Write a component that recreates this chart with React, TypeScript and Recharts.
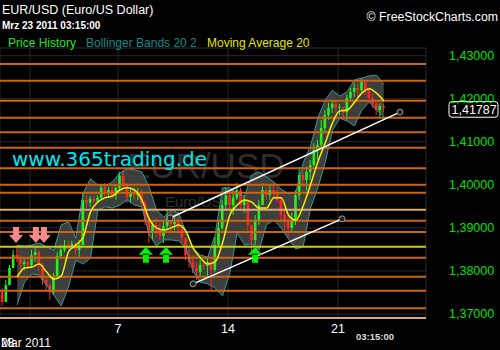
import React from 'react';
import {
    ComposedChart,
    Bar,
    Area,
    Line,
    XAxis,
    YAxis,
    CartesianGrid,
    ReferenceLine,
    ReferenceDot,
} from 'recharts';

// 4-hour candles, EUR/USD, 28 Feb - 23 Mar 2011 (weekends skipped)
const firstOpen = 1.3751;
const closes = [
    1.3728, 1.3767, 1.3807, 1.3837, 1.3830, 1.3816, 1.3821, 1.3814, 1.3837, 1.3844,
    1.3814, 1.3779, 1.3767, 1.3751, 1.3788, 1.3835, 1.3849, 1.3860, 1.3858, 1.3863,
    1.3849, 1.3860, 1.3965, 1.3958, 1.3967, 1.3963, 1.3970, 1.3993, 1.3983, 1.3988,
    1.3976, 1.3993, 1.4021, 1.4000, 1.3972, 1.3983, 1.3976, 1.3981, 1.3958, 1.3918,
    1.3891, 1.3907, 1.3895, 1.3881, 1.3904, 1.3923, 1.3909, 1.3914, 1.3900, 1.3877,
    1.3837, 1.3821, 1.3807, 1.3798, 1.3814, 1.3812, 1.3821, 1.3802, 1.3860, 1.3900,
    1.3953, 1.3976, 1.3953, 1.3970, 1.3988, 1.3953, 1.3965, 1.3907, 1.3872, 1.3918,
    1.3953, 1.3988, 1.3976, 1.3988, 1.3981, 1.3965, 1.3930, 1.3914, 1.3900, 1.3918,
    1.3976, 1.4023, 1.4011, 1.4030, 1.4046, 1.4081, 1.4093, 1.4132, 1.4162, 1.4179,
    1.4188, 1.4179, 1.4181, 1.4169, 1.4202, 1.4216, 1.4225, 1.4220, 1.4239, 1.4220,
    1.4202, 1.4188, 1.4174, 1.4183, 1.41787,
];
const highs = [
    1.3760, 1.3779, 1.3814, 1.3849, 1.3860, 1.3837, 1.3830, 1.3830, 1.3849, 1.3856,
    1.3849, 1.3821, 1.3788, 1.3772, 1.3795, 1.3844, 1.3860, 1.3872, 1.3870, 1.3870,
    1.3867, 1.3872, 1.3981, 1.3976, 1.3974, 1.3974, 1.3976, 1.4000, 1.4004, 1.3995,
    1.3997, 1.4000, 1.4030, 1.4035, 1.4004, 1.3993, 1.3995, 1.3993, 1.3988, 1.3965,
    1.3923, 1.3918, 1.3923, 1.3911, 1.3914, 1.3942, 1.3937, 1.3925, 1.3923, 1.3904,
    1.3877, 1.3849, 1.3837, 1.3821, 1.3825, 1.3825, 1.3830, 1.3830, 1.3879, 1.3918,
    1.3965, 1.3995, 1.3981, 1.3988, 1.4004, 1.3993, 1.3976, 1.3965, 1.3907, 1.3930,
    1.3965, 1.4004, 1.3995, 1.4000, 1.4004, 1.3993, 1.3970, 1.3946, 1.3930, 1.3935,
    1.3988, 1.4042, 1.4035, 1.4042, 1.4058, 1.4097, 1.4104, 1.4151, 1.4174, 1.4190,
    1.4197, 1.4193, 1.4188, 1.4181, 1.4209, 1.4225, 1.4237, 1.4234, 1.4248, 1.4244,
    1.4227, 1.4213, 1.4197, 1.4190, 1.4188,
];
const lows = [
    1.3719, 1.3737, 1.3767, 1.3807, 1.3821, 1.3802, 1.3802, 1.3807, 1.3807, 1.3821,
    1.3798, 1.3767, 1.3756, 1.3733, 1.3744, 1.3784, 1.3830, 1.3844, 1.3849, 1.3851,
    1.3837, 1.3830, 1.3860, 1.3946, 1.3949, 1.3956, 1.3958, 1.3967, 1.3974, 1.3970,
    1.3970, 1.3965, 1.3988, 1.3993, 1.3958, 1.3958, 1.3965, 1.3965, 1.3951, 1.3907,
    1.3865, 1.3872, 1.3879, 1.3872, 1.3865, 1.3895, 1.3888, 1.3895, 1.3888, 1.3865,
    1.3825, 1.3807, 1.3795, 1.3779, 1.3788, 1.3802, 1.3784, 1.3756, 1.3798, 1.3856,
    1.3895, 1.3942, 1.3937, 1.3930, 1.3965, 1.3942, 1.3935, 1.3888, 1.3842, 1.3860,
    1.3907, 1.3953, 1.3965, 1.3965, 1.3970, 1.3958, 1.3914, 1.3895, 1.3879, 1.3891,
    1.3907, 1.3965, 1.3995, 1.3988, 1.4011, 1.4042, 1.4058, 1.4086, 1.4123, 1.4151,
    1.4167, 1.4167, 1.4162, 1.4155, 1.4151, 1.4197, 1.4204, 1.4204, 1.4216, 1.4209,
    1.4190, 1.4179, 1.4162, 1.4158, 1.4169,
];

// Bollinger Bands 20 2 and Moving Average 20, read every second candle from candle 4 on
const bandStart = 4;
const upperBand = [
    1.3860, 1.3858, 1.3860, 1.3865, 1.3856, 1.3849, 1.3907, 1.3914, 1.3877, 1.3981,
    1.4014, 1.4000, 1.3997, 1.4007, 1.4028, 1.4037, 1.4035, 1.4030, 1.3995, 1.3942,
    1.3925, 1.3942, 1.3935, 1.3891, 1.3853, 1.3837, 1.3832, 1.3884, 1.3993, 1.3993,
    1.3981, 1.3974, 1.4023, 1.4030, 1.4018, 1.4007, 1.3990, 1.3979, 1.3983, 1.4051,
    1.4090, 1.4155, 1.4197, 1.4220, 1.4206, 1.4216, 1.4244, 1.4248, 1.4253, 1.4255,
    1.4234,
];
const lowerBand = [
    1.3721, 1.3774, 1.3793, 1.3791, 1.3767, 1.3744, 1.3719, 1.3763, 1.3825, 1.3816,
    1.3830, 1.3940, 1.3949, 1.3946, 1.3953, 1.3965, 1.3953, 1.3949, 1.3884, 1.3858,
    1.3872, 1.3872, 1.3870, 1.3853, 1.3798, 1.3774, 1.3770, 1.3760, 1.3742, 1.3795,
    1.3888, 1.3860, 1.3863, 1.3849, 1.3907, 1.3918, 1.3900, 1.3874, 1.3851, 1.3856,
    1.3946, 1.3993, 1.4051, 1.4127, 1.4155, 1.4148, 1.4137, 1.4174, 1.4192, 1.4174,
    1.4158,
];
const movingAvg = [
    1.3786, 1.3807, 1.3809, 1.3816, 1.3798, 1.3781, 1.3788, 1.3844, 1.3860, 1.3879,
    1.3937, 1.3960, 1.3970, 1.3974, 1.3988, 1.3993, 1.3988, 1.3965, 1.3921, 1.3900,
    1.3895, 1.3900, 1.3907, 1.3893, 1.3853, 1.3830, 1.3816, 1.3821, 1.3865, 1.3930,
    1.3953, 1.3965, 1.3960, 1.3946, 1.3946, 1.3970, 1.3970, 1.3930, 1.3918, 1.3951,
    1.4000, 1.4053, 1.4097, 1.4144, 1.4172, 1.4174, 1.4192, 1.4213, 1.4223, 1.4213,
    1.4195,
];

// drawn support / resistance levels
const orangeLevels = [
    1.42807, 1.42419, 1.41955, 1.4156, 1.41221, 1.40863, 1.40384, 1.40003, 1.39818,
    1.39167, 1.38905, 1.38308, 1.37866, 1.37541, 1.37132,
];
const tanLevel = 1.39423;
const yellowLevel = 1.38563;
const lastPrice = 1.41787;

const yTicks = [1.37, 1.375, 1.38, 1.385, 1.39, 1.395, 1.4, 1.405, 1.41, 1.415, 1.42, 1.425, 1.43];
const dayTicks = [7.5, 31.5, 61.5, 91.5];
const dayLabels = ['', '7', '14', '21'];

const upperTrend = [{ x: 45.7, y: 1.3923 }, { x: 108.4, y: 1.4169 }];
const lowerTrend = [{ x: 52.0, y: 1.3770 }, { x: 92.6, y: 1.3921 }];

const sellArrows = [{ x: 3.7, y: 1.3865 }, { x: 9.1, y: 1.3865 }, { x: 11.3, y: 1.3865 }];
const buyArrows = [{ x: 39.1, y: 1.3856 }, { x: 44.6, y: 1.3856 }, { x: 68.9, y: 1.3856 }];

const GREEN = '#22f222';
const RED = '#ff2626';
const TEAL = '#2a9da0';
const ORANGE = '#cc6612';
const FONT = '"Liberation Sans", Arial, sans-serif';

const candles = closes.map((close, i) => {
    const open = i === 0 ? firstOpen : closes[i - 1];
    return {
        idx: i,
        open,
        close,
        high: Math.max(highs[i], open, close),
        low: Math.min(lows[i], open, close),
    };
});

const bands = upperBand.map((upper, j) => ({
    idx: bandStart + j * 2,
    upper,
    lower: lowerBand[j],
    ma: movingAvg[j],
}));

const Candle = (props: any) => {
    const { x, y, width, height, payload } = props;
    if (x == null || payload == null) return null;
    const span = payload.high - payload.low;
    const k = span > 0 ? height / span : 0;
    const yo = y + (payload.high - payload.open) * k;
    const yc = y + (payload.high - payload.close) * k;
    const color = payload.close >= payload.open ? GREEN : RED;
    const cx = x + width / 2;
    return (
        <g>
            <line x1={cx} x2={cx} y1={y} y2={y + height} stroke={color} strokeWidth={1} />
            <rect x={cx - 1.3} y={Math.min(yo, yc)} width={2.6} height={Math.max(1, Math.abs(yc - yo))} fill={color} />
        </g>
    );
};

const DownArrow = ({ cx, cy }: any) => (
    <path
        d={`M${cx - 7},${cy - 8} L${cx + 7},${cy - 8} L${cx},${cy} Z M${cx - 3},${cy - 16} L${cx + 3},${cy - 16} L${cx + 3},${cy - 7} L${cx - 3},${cy - 7} Z`}
        fill="#f58a8a"
    />
);

const UpArrow = ({ cx, cy }: any) => (
    <path
        d={`M${cx - 7},${cy + 8} L${cx + 7},${cy + 8} L${cx},${cy} Z M${cx - 3},${cy + 7} L${cx + 3},${cy + 7} L${cx + 3},${cy + 16} L${cx - 3},${cy + 16} Z`}
        fill="#00ee00"
    />
);

const PriceTick = ({ x, y, payload }: any) => (
    <text x={x} y={y + 4.3} fill="#00e000" fontSize={12.5} fontFamily={FONT} textAnchor="start">
        {payload.value.toFixed(5).replace('.', ',')}
    </text>
);

const DayTick = ({ x, y, payload }: any) => (
    <text x={x} y={y + 15} fill="#ffffff" fontSize={12.5} fontFamily={FONT} textAnchor="middle">
        {dayLabels[dayTicks.indexOf(payload.value)]}
    </text>
);

const PriceTag = ({ viewBox }: any) => {
    if (!viewBox) return null;
    const x = viewBox.x + viewBox.width + 23;
    const y = viewBox.y;
    return (
        <g>
            <rect x={x} y={y - 6.3} width={49} height={15.6} rx={3} fill="#000" stroke="#fff" strokeWidth={1} />
            <text x={x + 2.5} y={y + 5.6} fill="#fff" fontSize={12.5} fontFamily={FONT}>
                {lastPrice.toFixed(5).replace('.', ',')}
            </text>
        </g>
    );
};

export default function App() {
    return (
        <div style={{ position: 'fixed', left: 0, top: 0, width: 500, height: 350, background: '#000', overflow: 'hidden' }}>
            <svg width={500} height={350} style={{ position: 'absolute', left: 0, top: 0 }}>
                <text x={127} y={178} fontSize={35} fontFamily={FONT} fill="#2e2e2e">EUR/USD</text>
                <text x={165} y={207} fontSize={15} fontFamily={FONT} fill="#313131">Euro/US Dollar</text>
            </svg>
            <div style={{ position: 'absolute', left: 0, top: 0 }}>
                <ComposedChart
                    width={500}
                    height={350}
                    data={candles}
                    margin={{ top: 48, right: 0, bottom: 2, left: 0 }}
                >
                    <CartesianGrid stroke="#2a2a2a" strokeWidth={1} />
                    <XAxis
                        dataKey="idx"
                        type="number"
                        domain={[-0.68, 115.5]}
                        ticks={dayTicks}
                        allowDataOverflow
                        height={30}
                        tickSize={0}
                        tickMargin={0}
                        tickLine={false}
                        axisLine={{ stroke: '#d9a877', strokeWidth: 2 }}
                        tick={<DayTick />}
                    />
                    <YAxis
                        orientation="right"
                        type="number"
                        domain={[1.36907, 1.43179]}
                        ticks={yTicks}
                        allowDataOverflow
                        width={74}
                        tickSize={0}
                        tickMargin={23}
                        tickLine={false}
                        axisLine={false}
                        tick={<PriceTick />}
                    />
                    <Area
                        data={bands}
                        dataKey={(d: any) => [d.lower, d.upper]}
                        type="linear"
                        fill="#3e3e3e"
                        fillOpacity={1}
                        stroke="none"
                        isAnimationActive={false}
                    />
                    <Line data={bands} dataKey="upper" type="linear" stroke={TEAL} strokeWidth={1} dot={false} isAnimationActive={false} />
                    <Line data={bands} dataKey="lower" type="linear" stroke={TEAL} strokeWidth={1} dot={false} isAnimationActive={false} />
                    <Bar
                        dataKey={(d: any) => [d.low, d.high]}
                        barSize={3}
                        shape={<Candle />}
                        isAnimationActive={false}
                    />
                    {orangeLevels.map((v) => (
                        <ReferenceLine key={v} y={v} stroke={ORANGE} strokeWidth={2} />
                    ))}
                    <ReferenceLine y={tanLevel} stroke="#d9a877" strokeWidth={2} />
                    <ReferenceLine y={yellowLevel} stroke="#cccc00" strokeWidth={2} />
                    <Line data={bands} dataKey="ma" type="monotone" stroke="#f0f000" strokeWidth={1.5} dot={false} isAnimationActive={false} />
                    <ReferenceLine segment={upperTrend} stroke="#ffffff" strokeWidth={1.5} />
                    <ReferenceLine segment={lowerTrend} stroke="#ffffff" strokeWidth={1.5} />
                    {[...upperTrend, ...lowerTrend].map((p, i) => (
                        <ReferenceDot key={'c' + i} x={p.x} y={p.y} r={3} fill="#222" stroke="#999" strokeWidth={1} />
                    ))}
                    {sellArrows.map((p, i) => (
                        <ReferenceDot key={'s' + i} x={p.x} y={p.y} shape={<DownArrow />} />
                    ))}
                    {buyArrows.map((p, i) => (
                        <ReferenceDot key={'b' + i} x={p.x} y={p.y} shape={<UpArrow />} />
                    ))}
                    <ReferenceLine y={lastPrice} stroke="none" label={<PriceTag />} />
                </ComposedChart>
            </div>
            <svg width={500} height={350} style={{ position: 'absolute', left: 0, top: 0, pointerEvents: 'none' }}>
                <text x={2} y={14} fontSize={12.5} fontFamily={FONT} fill="#fff">EUR/USD (Euro/US Dollar)</text>
                <text x={2} y={29} fontSize={10} fontWeight="bold" fontFamily={FONT} fill="#fff">Mrz 23 2011 03:15:00</text>
                <text x={498} y={20.5} fontSize={12.3} fontFamily={FONT} fill="#fff" textAnchor="end">© FreeStockCharts.com</text>
                <text x={8} y={46.5} fontSize={12} fontFamily={FONT} fill="#22e622">Price History</text>
                <text x={86} y={46.5} fontSize={12} fontFamily={FONT} fill="#128a8a">Bollinger Bands 20 2</text>
                <text x={207} y={46.5} fontSize={12} fontFamily={FONT} fill="#e6e600">Moving Average 20</text>
                <text x={12} y={166} fontSize={20} fontFamily='"DejaVu Sans", sans-serif' fill="#00e6f0">www.365trading.de</text>
                <text x={1} y={347} fontSize={12} fontFamily={FONT} fill="#fff">Mar 2011</text>
                <text x={1} y={347} fontSize={12} fontFamily={FONT} fill="#fff">28</text>
                <text x={356} y={340} fontSize={9.5} fontWeight="bold" fontFamily={FONT} fill="#dddddd">03:15:00</text>
            </svg>
        </div>
    );
}
